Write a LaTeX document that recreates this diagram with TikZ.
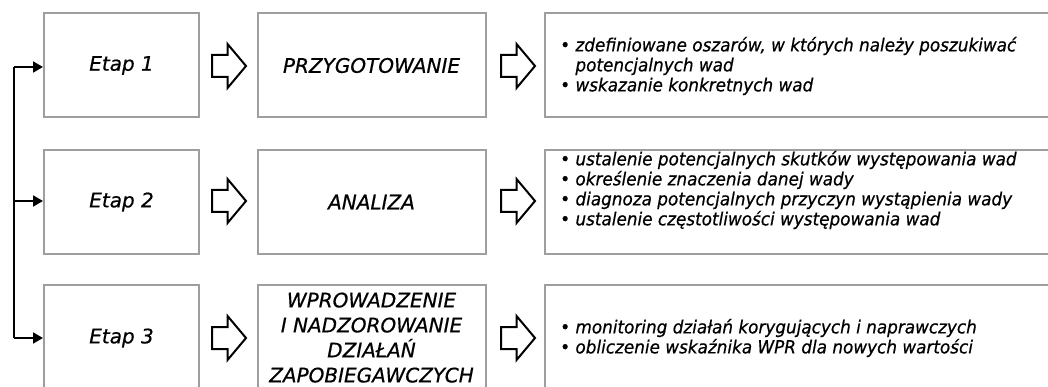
\documentclass[tikz,border=0pt]{standalone}
\usepackage{fontspec}
\setmainfont{DejaVu Sans}[ItalicFeatures={FakeBold=0.6}]
\newfontfamily\listafont{DejaVu Sans}[FakeStretch=0.935, ItalicFeatures={FakeBold=0.6}]
\usetikzlibrary{shapes.arrows,arrows.meta}

\tikzset{
	ramka/.style={draw=black!38, line width=2pt, inner sep=0pt, minimum height=104pt},
	napis/.style={font=\fontsize{20}{25}\selectfont\itshape, align=center},
	lista/.style={font=\listafont\fontsize{18}{20}\selectfont\itshape, align=left, anchor=west, inner sep=0pt},
	pusta/.style={single arrow, draw=black, line width=2pt, inner xsep=0pt, inner ysep=10pt,
		minimum height=34pt, single arrow head extend=11pt, single arrow tip angle=100, anchor=tail},
	grot/.style={line width=2pt, -{Triangle[length=10pt,width=11pt]}}
}
\newcommand{\pkt}{\textbullet\ }
\newcommand{\wciecie}{\hphantom{\textbullet\ }}

\begin{document}
\begin{tikzpicture}[x=1pt,y=-1pt]
	\useasboundingbox (0,0) rectangle (1048,387);
	
	% etapy
	\node[ramka, napis, minimum width=155pt] (e1) at (121.5,65.5) {Etap 1};
	\node[ramka, napis, minimum width=155pt] (e2) at (121.5,202) {Etap 2};
	\node[ramka, napis, minimum width=155pt, minimum height=106pt] (e3) at (121.5,338) {Etap 3};
	
	% nazwy
	\node[ramka, minimum width=228pt] (n1) at (371.5,65.5) {};
	\node[ramka, minimum width=228pt] (n2) at (371.5,202) {};
	\node[ramka, minimum width=228pt, minimum height=106pt] (n3) at (371.5,338) {};
	\node[napis] (t1) at (n1) {PRZYGOTOWANIE};
	\node[napis] (t2) at (n2) {ANALIZA};
	\node[napis, anchor=north] (t3) at (371.5,289) {WPROWADZENIE\\I NADZOROWANIE\\DZIAŁAŃ\\ZAPOBIEGAWCZYCH};
	
	% opisy
	\node[ramka, minimum width=510pt] (w1) at (800,65.5) {};
	\node[ramka, minimum width=510pt] (w2) at (800,202) {};
	\node[ramka, minimum width=510pt, minimum height=106pt] (w3) at (800,338) {};
	\node[lista] (l1) at (560,66) {\pkt zdefiniowane oszarów, w których należy poszukiwać\\
		\wciecie potencjalnych wad\\
		\pkt wskazanie konkretnych wad};
	\node[lista] (l2) at (560,190) {\pkt ustalenie potencjalnych skutków występowania wad\\
		\pkt określenie znaczenia danej wady\\
		\pkt diagnoza potencjalnych przyczyn wystąpienia wady\\
		\pkt ustalenie częstotliwości występowania wad};
	\node[lista] (l3) at (560,338) {\pkt monitoring działań korygujących i naprawczych\\
		\pkt obliczenie wskaźnika WPR dla nowych wartości};
	
	% strzalki miedzy ramkami
	\node[pusta] (a1) at (211,66) {};
	\node[pusta] (a2) at (211,201) {};
	\node[pusta] (a3) at (211,338) {};
	\node[pusta] (b1) at (500,66) {};
	\node[pusta] (b2) at (500,201) {};
	\node[pusta] (b3) at (500,338) {};
	
	% petla z lewej
	\coordinate (p1) at (14,67);
	\coordinate (p2) at (14,201);
	\coordinate (p3) at (14,338);
	\draw[line width=2pt] (p1) -- (p3);
	\draw[grot] (p1) -- (e1.west |- p1);
	\draw[grot] (p2) -- (e2.west |- p2);
	\draw[grot] (p3) -- (e3.west |- p3);
	
\end{tikzpicture}
\end{document}
